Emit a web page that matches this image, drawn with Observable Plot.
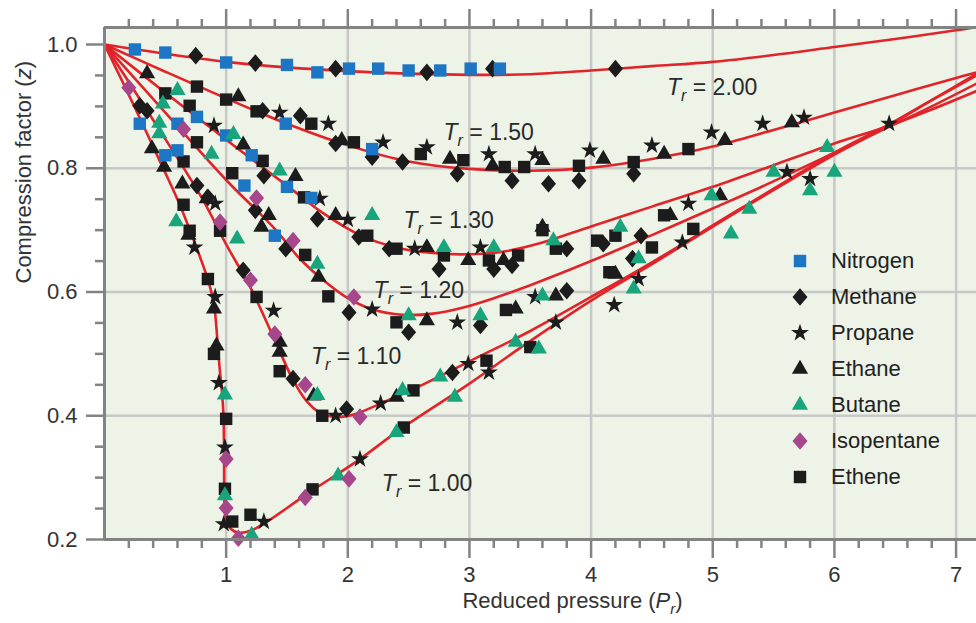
<!DOCTYPE html>
<html><head><meta charset="utf-8">
<script src="https://cdn.jsdelivr.net/npm/d3@7"></script>
<script src="https://cdn.jsdelivr.net/npm/@observablehq/plot@0.6"></script>
<style>
body{margin:0;background:#fff;}
#wrap{position:relative;width:976px;height:623px;overflow:hidden;font-family:"Liberation Sans",Arial,Helvetica,sans-serif;}
#legend{position:absolute;left:780px;top:243px;}
.row{display:flex;align-items:center;height:36px;font-size:22px;color:#222;}
.row svg{width:40px;height:36px;display:block;}
.row span{margin-left:11px;}
</style></head><body><div id="wrap"><div id="chart"></div><div id="legend"></div></div>
<script>
// ---------- data: [reduced pressure, compression factor] ----------
const nitrogen = [[0.25,0.992],[0.50,0.987],[1.00,0.971],[1.50,0.967],[1.75,0.955],[2.01,0.961],[2.25,0.961],[2.50,0.958],[2.76,0.958],[3.01,0.961],[3.25,0.961],[0.29,0.872],[0.60,0.872],[0.76,0.883],[1.00,0.853],[1.49,0.872],[2.20,0.831],[0.50,0.821],[0.60,0.829],[1.21,0.821],[1.15,0.772],[1.50,0.770],[1.70,0.752],[1.40,0.691]];
const methane = [[0.75,0.982],[1.24,0.970],[1.90,0.961],[2.65,0.955],[3.19,0.961],[4.20,0.961],[0.29,0.901],[0.35,0.893],[1.30,0.893],[1.61,0.885],[1.90,0.840],[2.20,0.818],[2.45,0.810],[2.90,0.791],[3.35,0.780],[3.65,0.775],[3.90,0.780],[4.35,0.791],[1.31,0.788],[0.76,0.772],[0.85,0.753],[1.24,0.732],[1.49,0.670],[1.75,0.718],[2.09,0.689],[2.34,0.670],[2.75,0.637],[3.20,0.637],[3.35,0.643],[3.80,0.670],[4.10,0.678],[4.41,0.691],[1.14,0.635],[2.01,0.567],[2.50,0.535],[3.09,0.546],[3.80,0.602],[4.34,0.654],[1.55,0.460],[1.99,0.411],[2.86,0.470]];
const propane = [[1.44,0.890],[0.90,0.869],[0.91,0.743],[0.74,0.672],[0.91,0.592],[0.94,0.453],[0.99,0.349],[0.98,0.225],[1.31,0.229],[2.10,0.330],[2.27,0.420],[1.39,0.570],[1.90,0.400],[2.99,0.484],[3.16,0.470],[3.71,0.551],[4.19,0.579],[4.39,0.621],[4.75,0.680],[4.80,0.743],[5.61,0.794],[5.80,0.783],[6.45,0.872],[1.84,0.872],[2.29,0.842],[2.65,0.834],[3.16,0.823],[3.54,0.823],[3.99,0.829],[4.50,0.837],[4.99,0.858],[5.41,0.872],[5.75,0.882],[1.77,0.751],[2.00,0.717],[2.55,0.670],[3.09,0.672],[2.20,0.572],[2.90,0.551],[3.54,0.592]];
const ethane = [[0.35,0.953],[1.10,0.916],[0.39,0.832],[0.49,0.802],[1.14,0.838],[1.57,0.787],[0.64,0.775],[0.84,0.751],[1.35,0.724],[1.29,0.705],[0.69,0.692],[0.90,0.573],[0.92,0.513],[1.44,0.519],[1.44,0.503],[1.76,0.624],[1.72,0.432],[2.40,0.430],[1.95,0.845],[2.84,0.815],[3.19,0.804],[3.60,0.813],[4.10,0.815],[4.60,0.823],[5.10,0.845],[5.65,0.874],[1.90,0.724],[2.65,0.672],[2.99,0.651],[3.28,0.651],[3.60,0.705],[4.65,0.724],[5.06,0.756],[2.65,0.554],[3.38,0.573],[3.71,0.594],[4.20,0.629]];
const butane = [[0.60,0.926],[0.48,0.904],[0.45,0.873],[0.45,0.856],[1.06,0.855],[0.88,0.823],[1.44,0.796],[0.59,0.714],[1.09,0.686],[1.75,0.645],[0.99,0.434],[0.99,0.271],[1.21,0.207],[1.92,0.303],[2.40,0.373],[2.45,0.441],[2.76,0.463],[2.88,0.430],[3.38,0.519],[3.57,0.508],[2.20,0.724],[2.79,0.672],[3.20,0.672],[3.69,0.683],[4.24,0.705],[4.99,0.756],[2.50,0.562],[3.09,0.562],[3.60,0.594],[4.39,0.654],[4.35,0.605],[5.15,0.694],[5.30,0.734],[5.50,0.794],[5.80,0.764],[5.94,0.834],[6.00,0.794],[1.75,0.433]];
const isopentane = [[0.20,0.930],[0.65,0.863],[1.25,0.752],[0.95,0.713],[1.20,0.619],[1.55,0.683],[2.05,0.592],[1.40,0.532],[1.65,0.450],[2.10,0.398],[1.00,0.330],[1.00,0.251],[1.10,0.202],[1.65,0.268],[2.01,0.298]];
const ethene = [[0.50,0.921],[0.76,0.932],[1.00,0.911],[0.70,0.901],[1.25,0.892],[0.76,0.842],[0.65,0.811],[1.30,0.812],[1.05,0.792],[0.65,0.741],[0.70,0.699],[0.95,0.699],[0.85,0.621],[1.25,0.592],[1.65,0.660],[1.84,0.593],[0.90,0.500],[1.00,0.395],[0.99,0.282],[1.05,0.229],[1.20,0.240],[1.71,0.281],[1.44,0.472],[1.79,0.400],[2.40,0.551],[2.54,0.441],[2.46,0.381],[3.14,0.489],[3.50,0.511],[3.30,0.571],[1.70,0.872],[2.05,0.842],[2.60,0.823],[2.95,0.813],[3.29,0.802],[3.45,0.802],[3.90,0.804],[4.35,0.810],[4.80,0.831],[1.64,0.753],[2.16,0.691],[2.40,0.670],[2.79,0.659],[3.16,0.651],[3.40,0.659],[3.60,0.700],[3.71,0.670],[4.05,0.683],[4.20,0.691],[4.60,0.724],[4.15,0.632],[4.50,0.672],[4.84,0.702]];

// isotherm curves
const tr200 = [[0,1],[0.5,0.985],[1,0.972],[1.5,0.963],[2,0.957],[2.5,0.953],[3,0.951],[3.5,0.952],[4,0.958],[4.5,0.965],[5,0.972],[5.5,0.983],[6,0.996],[6.5,1.009],[7,1.023],[7.17,1.028]];
const tr150 = [[0,1],[0.5,0.956],[1,0.913],[1.5,0.872],[2,0.837],[2.5,0.811],[3,0.799],[3.5,0.796],[4,0.801],[4.5,0.815],[5,0.835],[5.5,0.862],[6,0.89],[6.5,0.918],[7,0.946],[7.17,0.955]];
const tr130 = [[0,1],[0.5,0.922],[1,0.846],[1.5,0.772],[1.8,0.727],[2.1,0.692],[2.4,0.672],[2.7,0.663],[3,0.661],[3.3,0.666],[3.6,0.68],[4,0.706],[4.5,0.738],[5,0.77],[5.5,0.805],[6,0.84],[6.44,0.868],[6.8,0.895],[7.17,0.925]];
const tr120 = [[0,1],[0.5,0.89],[1,0.781],[1.4,0.702],[1.6,0.655],[1.8,0.619],[2.0,0.59],[2.2,0.572],[2.45,0.563],[2.7,0.565],[2.95,0.575],[3.2,0.59],[3.5,0.611],[4,0.65],[4.5,0.692],[5,0.735],[5.39,0.769],[6,0.825],[6.44,0.866],[6.8,0.9],[7.17,0.937]];
const tr110 = [[0,1],[0.4,0.878],[0.8,0.752],[1.0,0.677],[1.2,0.607],[1.4,0.522],[1.55,0.458],[1.66,0.424],[1.77,0.405],[1.9,0.398],[2.05,0.402],[2.25,0.418],[2.57,0.446],[3.0,0.488],[3.5,0.537],[4,0.592],[4.5,0.648],[5.23,0.735],[6,0.825],[6.44,0.87],[6.8,0.91],[7.17,0.95]];
const tr100 = [[0,1],[0.25,0.898],[0.48,0.801],[0.61,0.745],[0.75,0.675],[0.85,0.62],[0.9,0.58],[0.925,0.53],[0.945,0.48],[0.965,0.44],[0.978,0.4],[0.983,0.33],[0.986,0.26],[1.0,0.232],[1.04,0.217],[1.1,0.211],[1.2,0.214],[1.33,0.228],[1.66,0.273],[2.1,0.33],[2.43,0.378],[3.0,0.452],[3.42,0.51],[4.0,0.586],[4.5,0.645],[5.23,0.733],[6.0,0.822],[6.44,0.868],[6.8,0.91],[7.17,0.953]];

// curve labels: [Pr, z, text]
const curveLabels = [[4.624,0.931,"2.00"],[2.787,0.858,"1.50"],[2.458,0.715,"1.30"],[2.212,0.602,"1.20"],[1.697,0.495,"1.10"],[2.28,0.290,"1.00"]];

const gasNames = ["Nitrogen","Methane","Propane","Ethane","Butane","Isopentane","Ethene"];
const xMajor = [1,2,3,4,5,6,7];
const xMinor = d3.range(1,36).map(i => +(i*0.2).toFixed(1)).filter(v => Math.abs(v - Math.round(v)) > 1e-6);
const yMajor = [0.2,0.4,0.6,0.8,1.0];
const yMinor = d3.range(5,20).map(i => +(i*0.05).toFixed(2)).filter(v => Math.abs(v*5 - Math.round(v*5)) > 1e-6);
const yGrid = [0.4,0.6,0.8];

// ---------- styles ----------
const RED = "#e1232a", BG = "#edf3e6", GRID = "#c8c8c8", AX = "#838383", INK = "#1c1c1c";
const BLUE = "#1d76c4", GREEN = "#19a57c", PURPLE = "#a5478a";
const diamondSym = { draw(ctx, size){ const s = Math.sqrt(size), h = s*0.68, w = s*0.58; ctx.moveTo(0,-h); ctx.lineTo(w,0); ctx.lineTo(0,h); ctx.lineTo(-w,0); ctx.closePath(); } };
const styleOf = {
  Nitrogen:   {data: nitrogen,   fill: BLUE,   symbol: d3.symbolSquare,   r: 7},
  Methane:    {data: methane,    fill: INK,    symbol: diamondSym,        r: 7.3},
  Propane:    {data: propane,    fill: INK,    symbol: d3.symbolStar,     r: 5.6},
  Ethane:     {data: ethane,     fill: INK,    symbol: d3.symbolTriangle, r: 6},
  Butane:     {data: butane,     fill: GREEN,  symbol: d3.symbolTriangle, r: 6},
  Isopentane: {data: isopentane, fill: PURPLE, symbol: diamondSym,        r: 7.3},
  Ethene:     {data: ethene,     fill: INK,    symbol: d3.symbolSquare,   r: 7}
};
const drawOrder = ["Ethene","Methane","Ethane","Propane","Nitrogen","Butane","Isopentane"];

const curves = [["2.00",tr200],["1.50",tr150],["1.30",tr130],["1.20",tr120],["1.10",tr110],["1.00",tr100]]
  .flatMap(([tr, pts]) => pts.map(([x,z]) => ({tr, x, z})));
const labelRows = curveLabels.map(([x,z,t]) => ({x, z, text: "T_r = " + t}));

const yTop = 1.0275, xRight = 7.168;
const axisStyle = {stroke: AX, strokeWidth: 2.5, fill: "#333", fontSize: 22, label: null};

const chart = Plot.plot({
  width: 976, height: 623,
  marginTop: 27, marginBottom: 84, marginLeft: 104, marginRight: 0,
  x: {domain: [0, xRight], label: null},
  y: {domain: [0.2, yTop], label: null},
  style: {fontFamily: "'Liberation Sans', Arial, Helvetica, sans-serif", fontSize: "22px", background: "transparent", color: "#333", overflow: "visible"},
  marks: [
    Plot.frame({fill: BG, stroke: null}),
    Plot.ruleX(xMajor, {stroke: GRID, strokeWidth: 2.5}),
    Plot.ruleY(yGrid, {stroke: GRID, strokeWidth: 2.5}),
    Plot.line(curves, {x: "x", y: "z", z: "tr", stroke: RED, strokeWidth: 2.6, curve: "catmull-rom", clip: true}),
    ...drawOrder.map(g => Plot.dot(styleOf[g].data, {x: d => d[0], y: d => d[1], fill: styleOf[g].fill, symbol: styleOf[g].symbol, r: styleOf[g].r, stroke: null})),
    Plot.text(labelRows, {x: "x", y: "z", text: "text", textAnchor: "start", fontSize: 23, fill: "#2a2a2a"}),
    Plot.ruleX([0], {stroke: AX, strokeWidth: 3}),
    Plot.ruleY([0.2, yTop], {stroke: AX, strokeWidth: 3}),
    Plot.axisY(yMajor, {...axisStyle, anchor: "left", tickSize: 18, tickPadding: 9, tickFormat: d3.format(".1f")}),
    Plot.axisY(yMinor, {...axisStyle, anchor: "left", tickSize: 9, tickFormat: () => ""}),
    Plot.axisX(xMajor, {...axisStyle, anchor: "bottom", tickSize: 19, tickPadding: 8, tickFormat: d3.format("d")}),
    Plot.axisX(xMinor, {...axisStyle, anchor: "bottom", tickSize: 9, tickFormat: () => ""}),
    Plot.axisX(xMajor, {...axisStyle, anchor: "top", tickSize: 19, tickFormat: () => ""}),
    Plot.axisX(xMinor, {...axisStyle, anchor: "top", tickSize: 9, tickFormat: () => ""}),
    Plot.text(["Reduced pressure (P_r)"], {frameAnchor: "bottom", dy: 68, dx: 32, fontSize: 22, fill: "#333"}),
    Plot.text(["Compression factor (z)"], {frameAnchor: "left", rotate: -90, dx: -81, fontSize: 22, fill: "#333"})
  ]
});

// rich text: italic symbols and subscripts
const NS = "http://www.w3.org/2000/svg";
function tspan(parent, txt, opt = {}) {
  const t = document.createElementNS(NS, "tspan");
  t.textContent = txt;
  if (opt.italic) t.setAttribute("font-style", "italic");
  if (opt.size) t.setAttribute("font-size", opt.size);
  if (opt.dy) t.setAttribute("dy", opt.dy);
  parent.appendChild(t);
}
chart.querySelectorAll("text").forEach(el => {
  const s = el.textContent;
  let m;
  if ((m = s.match(/^T_r = (.*)$/))) {
    el.textContent = "";
    tspan(el, "T", {italic: true});
    tspan(el, "r", {italic: true, size: "16px", dy: "6"});
    tspan(el, " = " + m[1], {dy: "-6"});
  } else if (s === "Reduced pressure (P_r)") {
    el.textContent = "";
    tspan(el, "Reduced pressure (");
    tspan(el, "P", {italic: true});
    tspan(el, "r", {italic: true, size: "15px", dy: "6"});
    tspan(el, ")", {dy: "-6"});
  } else if (s === "Compression factor (z)") {
    el.textContent = "";
    tspan(el, "Compression factor (");
    tspan(el, "z", {italic: true});
    tspan(el, ")");
  }
});
document.getElementById("chart").appendChild(chart);

// legend (HTML overlay inside the plot area)
const legend = document.getElementById("legend");
gasNames.forEach(g => {
  const st = styleOf[g];
  const row = document.createElement("div");
  row.className = "row";
  const path = d3.symbol().type(st.symbol).size(Math.PI * st.r * st.r)();
  row.innerHTML = `<svg viewBox="-20 -18 40 36"><path d="${path}" fill="${st.fill}"/></svg><span>${g}</span>`;
  legend.appendChild(row);
});
</script>
</body></html>
